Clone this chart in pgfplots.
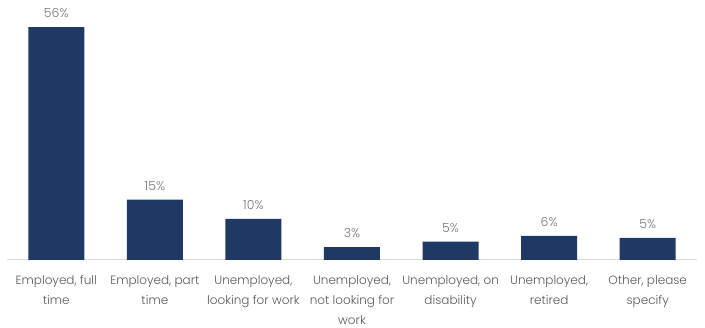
\documentclass[border=0pt]{standalone}
\usepackage{pgfplots}
\pgfplotsset{compat=1.18}
\usepackage{fontspec}
\setmainfont{Poppins}[UprightFont=* Light]
\definecolor{barblue}{HTML}{1F3864}
\definecolor{labgray}{HTML}{595959}
\definecolor{valgray}{HTML}{767676}
\definecolor{axgray}{HTML}{D9D9D9}
\begin{document}
\begin{tikzpicture}
\path[use as bounding box] (-7pt,-68pt) rectangle (698pt,260pt);
\begin{axis}[
  at={(0pt,0pt)}, anchor=south west,
  scale only axis, width=690pt, height=249.6pt,
  xmin=-0.5, xmax=6.5, ymin=0, ymax=60,
  axis x line=bottom, axis y line=none,
  x axis line style={draw=axgray, line width=1pt, -},
  xtick=data,
  xticklabels={{Employed, full\\time},{Employed, part\\time},{Unemployed,\\looking for work},{Unemployed,\\not looking for\\work},{Unemployed, on\\disability},{Unemployed,\\retired},{Other, please\\specify}},
  xticklabel style={align=center, font=\fontsize{12}{20}\selectfont, text=labgray, yshift=-12pt},
  major tick length=0pt,
  ytick=\empty,
  clip=false,
  ybar, bar width=56pt,
  nodes near coords,
  point meta=explicit symbolic,
  nodes near coords style={font=\fontsize{12.5}{14}\selectfont, text=valgray, yshift=6pt},
]
\addplot[fill=barblue, draw=none] coordinates {
 (0,56) [56\%]
 (1,14.5) [15\%]
 (2,9.9) [10\%]
 (3,3.1) [3\%]
 (4,4.4) [5\%]
 (5,5.8) [6\%]
 (6,5.3) [5\%]
};
\end{axis}
\end{tikzpicture}
\end{document}
